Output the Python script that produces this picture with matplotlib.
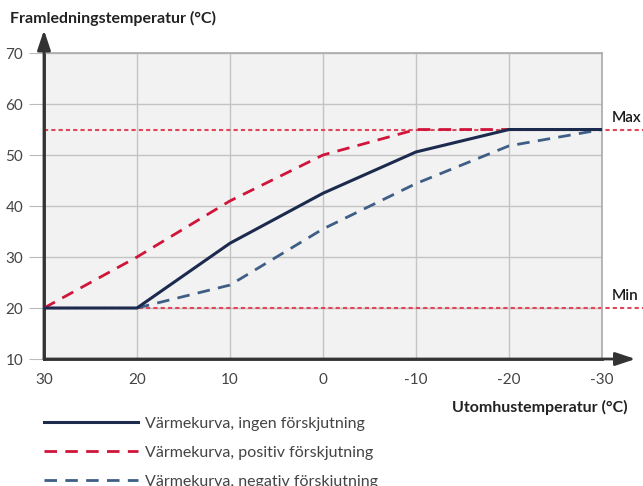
import matplotlib.pyplot as plt

# ---- data ----
outdoor = [30, 20, 10, 0, -10, -20, -30]
curve_none = [20, 20, 32.7, 42.5, 50.6, 55, 55]
curve_pos = [20, 30, 41, 50, 55, 55, 55]
neg_outdoor = [20, 10, 0, -10, -20, -30]
curve_neg = [20, 24.5, 35.5, 44.4, 51.8, 55]
max_temp = 55
min_temp = 20
x_ticks = [30, 20, 10, 0, -10, -20, -30]
y_ticks = [10, 20, 30, 40, 50, 60, 70]

plt.rcParams['font.family'] = ['Lato', 'DejaVu Sans']

fig = plt.figure(figsize=(6.43, 4.86), dpi=100)
ax = fig.add_axes([0.0684, 0.2613, 0.8678, 0.6296])
ax.set_facecolor('#f2f2f2')

ax.set_xlim(30, -30)
ax.set_ylim(10, 70)
ax.set_xticks(x_ticks)
ax.set_yticks(y_ticks)
ax.set_xticklabels([str(v) for v in x_ticks])
ax.grid(True, color='#c4c4c4', linewidth=1.0)
ax.set_axisbelow(True)
ax.tick_params(axis='y', length=11, color='#bbbbbb', labelsize=11, labelcolor='#444444', pad=4)
ax.tick_params(axis='x', length=0, labelsize=11, labelcolor='#444444', pad=10)

for s in ['top', 'right']:
    ax.spines[s].set_color('#aaaaaa')
    ax.spines[s].set_linewidth(1.2)
for s in ['left', 'bottom']:
    ax.spines[s].set_color('#333333')
    ax.spines[s].set_linewidth(2)

# axis arrows
ax.annotate('', xy=(0, 1.075), xytext=(0, 0), xycoords='axes fraction',
            arrowprops=dict(arrowstyle='-|>,head_length=1.2,head_width=0.4',
                            color='#333333', lw=2, shrinkA=0, shrinkB=0))
ax.annotate('', xy=(1.06, 0), xytext=(0, 0), xycoords='axes fraction',
            arrowprops=dict(arrowstyle='-|>,head_length=1.2,head_width=0.4',
                            color='#333333', lw=2, shrinkA=0, shrinkB=0))

# max / min limits
lim_color = '#e0455a'
ax.plot([30, -36], [max_temp, max_temp], color=lim_color, lw=1.5,
        linestyle=(0, (2, 1.5)), clip_on=False, zorder=2)
ax.plot([30, -36], [min_temp, min_temp], color=lim_color, lw=1.5,
        linestyle=(0, (2, 1.5)), clip_on=False, zorder=2)
ax.text(-31.1, 57.2, 'Max', fontsize=11, color='#1a1a1a', ha='left', va='center',
        fontweight='semibold')
ax.text(-31.1, 22.3, 'Min', fontsize=11, color='#1a1a1a', ha='left', va='center',
        fontweight='semibold')

# curves
ax.plot(neg_outdoor, curve_neg, color='#3e5e86', lw=2, linestyle=(0, (4.5, 3)),
        label='Värmekurva, negativ förskjutning', zorder=3)
ax.plot(outdoor, curve_pos, color='#d0143a', lw=2, linestyle=(0, (4.5, 3)),
        label='Värmekurva, positiv förskjutning', zorder=3)
ax.plot(outdoor, curve_none, color='#1c2a4e', lw=2.2,
        label='Värmekurva, ingen förskjutning', zorder=4)

handles, labels = ax.get_legend_handles_labels()
order = [2, 1, 0]
leg = ax.legend([handles[i] for i in order], [labels[i] for i in order],
                loc='upper left', bbox_to_anchor=(-0.012, -0.168), frameon=False,
                handlelength=5.9, handletextpad=0.45, labelspacing=0.92,
                fontsize=11.5, borderaxespad=0)
for t in leg.get_texts():
    t.set_color('#444444')

fig.text(10 / 643, 1 - 18 / 486, 'Framledningstemperatur (°C)', fontsize=11.5,
         fontweight='bold', color='#222222', ha='left', va='center')
fig.text(628 / 643, 1 - 407 / 486, 'Utomhustemperatur (°C)', fontsize=11.5,
         fontweight='bold', color='#222222', ha='right', va='center')

fig.savefig('out.png', dpi=100)
